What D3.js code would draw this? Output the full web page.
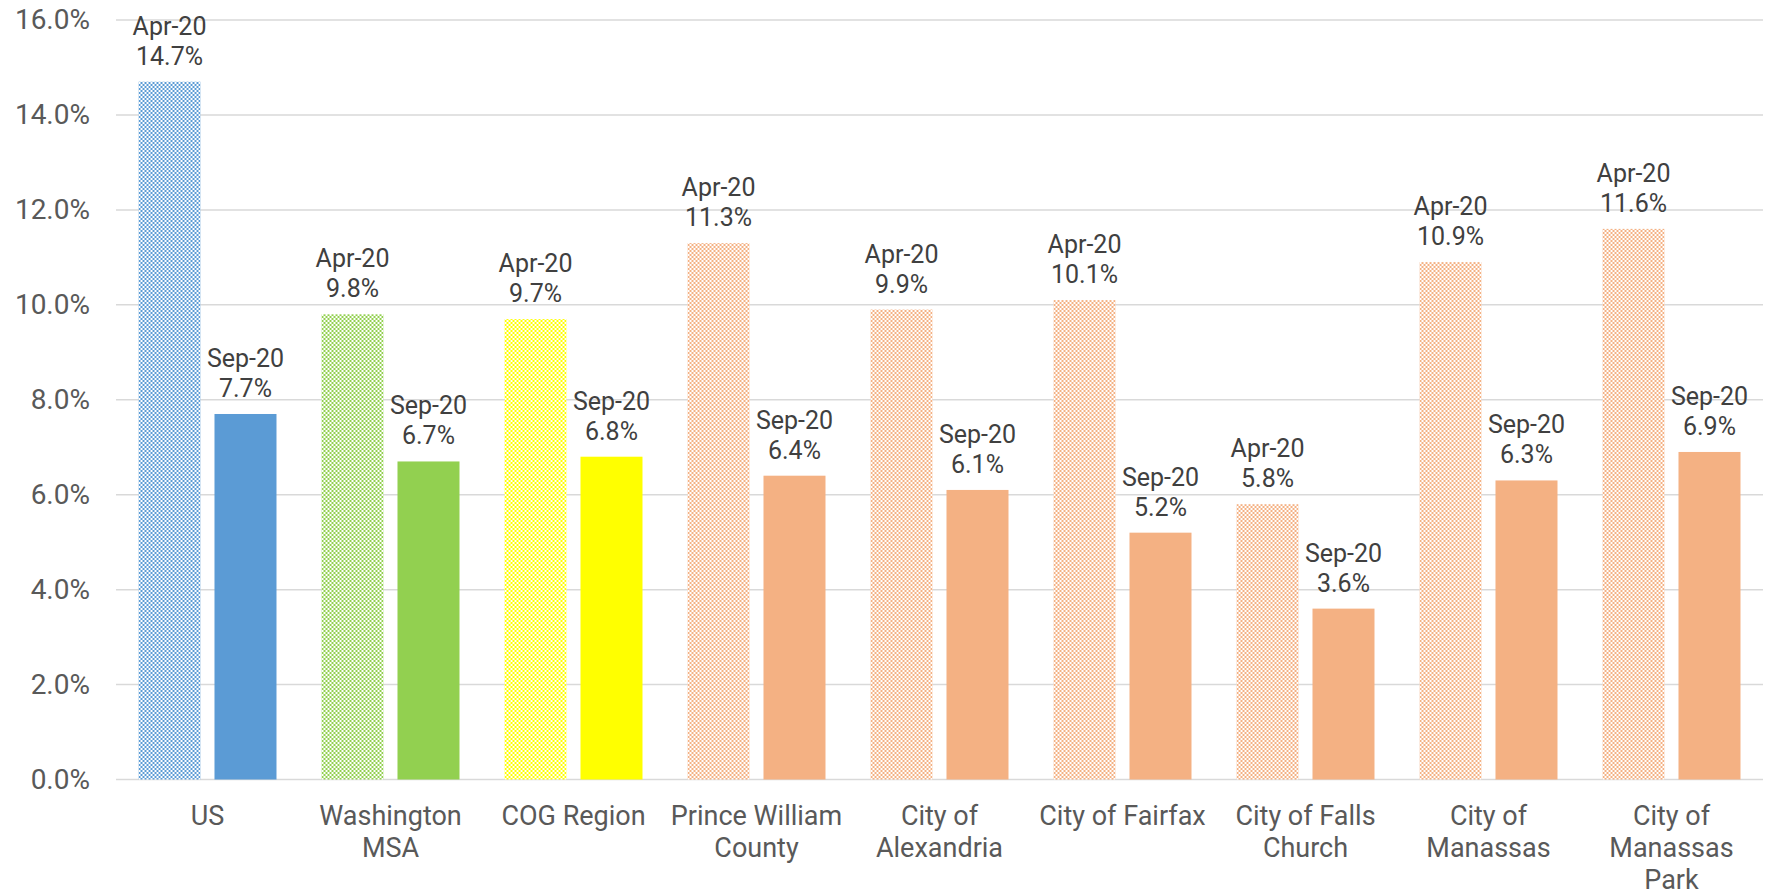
<!DOCTYPE html>
<html>
<head>
<meta charset="utf-8">
<title>Unemployment rate</title>
<script src="https://d3js.org/d3.v7.min.js"></script>
<style>
  body { margin: 0; background: #fff; }
  text { font-family: Roboto, "Liberation Sans", sans-serif; }
</style>
</head>
<body>
<div id="chart"></div>
<script>
// data
const categories = ["US", "Washington\nMSA", "COG Region", "Prince William\nCounty", "City of\nAlexandria",
  "City of Fairfax", "City of Falls\nChurch", "City of\nManassas", "City of\nManassas\nPark"];
const series = ["Apr-20", "Sep-20"];
const apr20 = [14.7, 9.8, 9.7, 11.3, 9.9, 10.1, 5.8, 10.9, 11.6];
const sep20 = [7.7, 6.7, 6.8, 6.4, 6.1, 5.2, 3.6, 6.3, 6.9];
const colors = ["#5B9BD5", "#92D050", "#FFFF00", "#F4B183", "#F4B183", "#F4B183", "#F4B183", "#F4B183", "#F4B183"];
const yTicks = [0, 2, 4, 6, 8, 10, 12, 14, 16];

const W = 1767, H = 894;
const margin = {top: 20, right: 4, bottom: 114.5, left: 116};

const svg = d3.select("#chart").append("svg")
    .attr("width", W).attr("height", H);

// checkerboard fill for the April bars
const defs = svg.append("defs");
colors.forEach(function(c, i) {
  const p = defs.append("pattern")
      .attr("id", "chk" + i)
      .attr("patternUnits", "userSpaceOnUse")
      .attr("width", 4).attr("height", 4);
  p.append("rect").attr("width", 4).attr("height", 4).attr("fill", "#fff");
  p.append("rect").attr("width", 2).attr("height", 2).attr("fill", c);
  p.append("rect").attr("x", 2).attr("y", 2).attr("width", 2).attr("height", 2).attr("fill", c);
});

const x0 = d3.scaleBand()
    .domain(d3.range(categories.length))
    .range([margin.left, W - margin.right])
    .paddingInner(0.246)
    .paddingOuter(0.123);

const x1 = d3.scaleBand()
    .domain(series)
    .range([0, x0.bandwidth()])
    .paddingInner(0.184);

const y = d3.scaleLinear()
    .domain([0, 16])
    .range([H - margin.bottom, margin.top]);

// gridlines
svg.append("g")
  .selectAll("line")
  .data(yTicks)
  .join("line")
    .attr("x1", margin.left).attr("x2", W - margin.right)
    .attr("y1", d => y(d)).attr("y2", d => y(d))
    .attr("stroke", "#D9D9D9").attr("stroke-width", 1.5);

// y axis labels
const yAxis = d3.axisLeft(y)
    .tickValues(yTicks)
    .tickFormat(d => d.toFixed(1) + "%")
    .tickSize(0).tickPadding(0);

svg.append("g")
    .attr("transform", "translate(" + (margin.left - 26) + ",0)")
    .call(yAxis)
    .call(g => g.select(".domain").remove())
    .selectAll("text")
      .attr("font-family", "Roboto, sans-serif")
      .attr("font-size", "28px")
      .attr("fill", "#595959");

const rows = categories.map(function(c, i) {
  return {i: i, vals: [apr20[i], sep20[i]]};
});

const groups = svg.append("g")
  .selectAll("g")
  .data(rows)
  .join("g")
    .attr("transform", d => "translate(" + x0(d.i) + ",0)");

groups.selectAll("rect")
  .data(d => d.vals.map((v, k) => ({i: d.i, k: k, v: v})))
  .join("rect")
    .attr("x", d => x1(series[d.k]))
    .attr("width", x1.bandwidth())
    .attr("y", d => y(d.v))
    .attr("height", d => y(0) - y(d.v))
    .attr("fill", d => d.k === 0 ? "url(#chk" + d.i + ")" : colors[d.i]);

// data labels
const lab = groups.selectAll("text.lab")
  .data(d => d.vals.map((v, k) => ({i: d.i, k: k, v: v})))
  .join("text")
    .attr("class", "lab")
    .attr("text-anchor", "middle")
    .attr("font-size", "25px")
    .attr("fill", "#404040")
    .attr("x", d => x1(series[d.k]) + x1.bandwidth() / 2)
    .attr("y", d => y(d.v) - 47);

lab.append("tspan").text(d => series[d.k]);
lab.append("tspan")
    .attr("x", d => x1(series[d.k]) + x1.bandwidth() / 2)
    .attr("dy", 30)
    .text(d => d.v.toFixed(1) + "%");

// category labels
const cat = svg.append("g")
  .selectAll("text")
  .data(categories)
  .join("text")
    .attr("text-anchor", "middle")
    .attr("font-size", "27px")
    .attr("fill", "#595959")
    .attr("transform", (d, i) => "translate(" + (x0(i) + x0.bandwidth() / 2) + "," + (y(0) + 45) + ")");

cat.selectAll("tspan")
  .data(d => d.split("\n"))
  .join("tspan")
    .attr("x", 0)
    .attr("dy", (d, j) => j === 0 ? 0 : 32)
    .text(d => d);
</script>
</body>
</html>
